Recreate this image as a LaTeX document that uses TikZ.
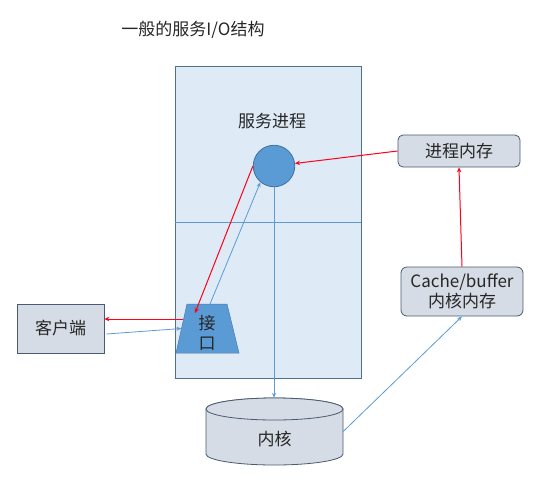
\documentclass[tikz,border=0pt]{standalone}
\usepackage{fontspec}
\setmainfont{Noto Sans CJK SC}
\usetikzlibrary{shapes.geometric,arrows.meta,calc}
\definecolor{lightfill}{HTML}{DEEBF7}
\definecolor{boxfill}{HTML}{D6DCE5}
\definecolor{boxline}{HTML}{4A5B70}
\definecolor{frame}{HTML}{4F6F8F}
\definecolor{accent}{HTML}{5B9BD5}
\definecolor{accentdark}{HTML}{41719C}
\definecolor{redline}{HTML}{FF0018}
\tikzset{
  txt/.style={font=\fontsize{17}{20}\selectfont, text=black!85},
  graybox/.style={draw=boxline, fill=boxfill, line width=0.8pt, txt},
  blueflow/.style={draw=accent, line width=0.8pt, -{Stealth[length=5pt,width=4pt]}},
  redflow/.style={draw=redline, line width=1pt, -{Stealth[length=5pt,width=4.5pt]}},
}
\begin{document}
\begin{tikzpicture}[x=1pt,y=-1pt]
\useasboundingbox (0,0) rectangle (541,480);
% title
\node[txt] (title) at (193,30) {一般的服务I/O结构};
% service frame
\node[draw=frame, fill=lightfill, line width=0.8pt, minimum width=186, minimum height=312, inner sep=0] (svc) at (268,222) {};
\draw[accent, line width=0.8pt] (svc.west) -- (svc.east);
\node[txt] (svclabel) at (272,121) {服务进程};
% process circle
\node[circle, draw=accentdark, fill=accent, line width=0.8pt, minimum size=41.5, inner sep=0] (proc) at (274,166) {};
% interface trapezoid
\path[fill=accent, draw=accent!80!black, line width=0.5pt] (187,304) -- (227,304) -- (239,353) -- (176,353) -- cycle;
\node[txt, align=center, inner sep=0] (iface) at (207,333) {接\\口};
\coordinate (ifn) at (210,304);
\coordinate (ifw) at (181.5,328.5);
% client
\node[graybox, minimum width=87, minimum height=49, inner sep=0] (client) at (60.5,328.5) {客户端};
% process memory
\node[graybox, rounded corners=5pt, minimum width=122, minimum height=32, inner sep=0] (mem) at (459,151) {进程内存};
% cache
\node[graybox, rounded corners=6pt, minimum width=122, minimum height=49, inner sep=0, align=center] (cache) at (462,291.5) {Cache/buffer\\内核内存};
% kernel cylinder
\node[minimum width=137, minimum height=67, inner sep=0] (kern) at (274.5,431.5) {};
\path[draw=boxline, fill=boxfill, line width=0.8pt]
  (206,409) -- (206,454) arc[start angle=180, end angle=0, x radius=68.5, y radius=11]
  -- (343,409) arc[start angle=0, end angle=-180, x radius=68.5, y radius=11] -- cycle;
\draw[boxline, fill=boxfill, line width=0.8pt] (274.5,409) ellipse[x radius=68.5, y radius=11];
\node[txt] (kerntext) at (274.5,439) {内核};
% connectors
\coordinate (ifin) at (195,313);
\coordinate (r1) at (183,319);
\draw[redflow] (mem.west) -- (proc);
\draw[redflow] (proc.west) -- (ifin);
\draw[blueflow] (ifn) -- (proc.230);
\draw[redflow] (r1) -- (r1 -| client.east);
\draw[blueflow] ($(client.east)+(2,5.5)$) -- (ifw);
\draw[blueflow] (proc.south) -- (proc.south |- kern.north);
\draw[blueflow] (kern.east) -- (cache.south);
\draw[redflow] (cache.north) -- (mem.south);
\end{tikzpicture}
\end{document}
